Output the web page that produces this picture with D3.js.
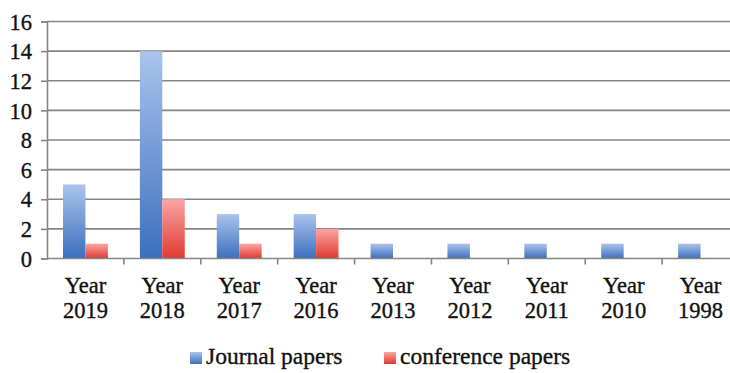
<!DOCTYPE html>
<html>
<head>
<meta charset="utf-8">
<script src="https://cdn.jsdelivr.net/npm/d3@7"></script>
<style>
  html, body { margin: 0; padding: 0; background: #fff; }
  svg { display: block; }
  text { font-family: "Liberation Serif", "Times New Roman", serif; fill: #111; stroke: #111; stroke-width: 0.35px; }
</style>
</head>
<body>
<svg id="chart" width="730" height="373"></svg>
<script>
// Papers published per year, split by venue type
const years = ["2019", "2018", "2017", "2016", "2013", "2012", "2011", "2010", "1998"];
const journalPapers = [5, 14, 3, 3, 1, 1, 1, 1, 1];
const conferencePapers = [1, 4, 1, 2, 0, 0, 0, 0, 0];
const seriesNames = ["Journal papers", "conference papers"];
const yTicks = [0, 2, 4, 6, 8, 10, 12, 14, 16];

const svg = d3.select("#chart");
const defs = svg.append("defs");

// Per-bar vertical gradients (light at top, saturated at bottom)
const gradients = [
  { id: "gradJournal", top: "#aac4ec", bottom: "#3b6fbe" },
  { id: "gradConf", top: "#fba5a3", bottom: "#de3a30" }
];
gradients.forEach(g => {
  const lg = defs.append("linearGradient")
    .attr("id", g.id).attr("x1", 0).attr("y1", 0).attr("x2", 0).attr("y2", 1);
  lg.append("stop").attr("offset", "0%").attr("stop-color", g.top);
  lg.append("stop").attr("offset", "100%").attr("stop-color", g.bottom);
});

const plotLeft = 47, plotRight = 739, plotTop = 21.5, plotBottom = 258.5;
const axisFont = "22.5px";
const legendFont = "23.5px";

const x0 = d3.scaleBand().domain(years).range([plotLeft, plotRight]).paddingInner(0).paddingOuter(0);
const x1 = d3.scaleBand().domain(seriesNames).range([16, x0.bandwidth() - 16]).padding(0);
const y = d3.scaleLinear().domain([0, 16]).range([plotBottom, plotTop]);

// Horizontal gridlines
svg.append("g")
  .selectAll("line")
  .data(yTicks.filter(t => t > 0))
  .join("line")
  .attr("x1", plotLeft).attr("x2", plotRight)
  .attr("y1", d => y(d)).attr("y2", d => y(d))
  .attr("stroke", "#858585").attr("stroke-width", 1.6);

// Bars
const series = [
  { name: seriesNames[0], values: journalPapers, fill: "url(#gradJournal)" },
  { name: seriesNames[1], values: conferencePapers, fill: "url(#gradConf)" }
];
series.forEach(s => {
  svg.append("g")
    .selectAll("rect")
    .data(years.map((yr, i) => ({ yr, v: s.values[i] })).filter(d => d.v > 0))
    .join("rect")
    .attr("x", d => x0(d.yr) + x1(s.name))
    .attr("width", x1.bandwidth())
    .attr("y", d => y(d.v))
    .attr("height", d => y(0) - y(d.v))
    .attr("fill", s.fill);
});

// Y axis
const yAxis = d3.axisLeft(y).tickValues(yTicks).tickSize(6).tickPadding(9).tickFormat(d3.format("d"));
const yg = svg.append("g").attr("transform", `translate(${plotLeft},0)`).call(yAxis);
yg.select(".domain").attr("stroke", "#858585").attr("stroke-width", 1.6);
yg.selectAll(".tick line").attr("stroke", "#858585").attr("stroke-width", 1.6);
yg.selectAll(".tick text")
  .style("font-family", '"Liberation Serif", "Times New Roman", serif')
  .style("font-size", axisFont).attr("fill", "#111").attr("dy", "0.34em");

// X axis: baseline with ticks at category boundaries
const xg = svg.append("g");
xg.append("line")
  .attr("x1", plotLeft).attr("x2", plotRight).attr("y1", plotBottom).attr("y2", plotBottom)
  .attr("stroke", "#858585").attr("stroke-width", 1.6);
xg.selectAll("line.tick")
  .data(years)
  .join("line").attr("class", "tick")
  .attr("x1", d => x0(d) + x0.bandwidth()).attr("x2", d => x0(d) + x0.bandwidth())
  .attr("y1", plotBottom).attr("y2", plotBottom + 6)
  .attr("stroke", "#858585").attr("stroke-width", 1.6);
const labels = xg.selectAll("text.cat")
  .data(years)
  .join("text").attr("class", "cat")
  .attr("text-anchor", "middle")
  .style("font-size", axisFont);
labels.append("tspan")
  .attr("x", d => x0(d) + x0.bandwidth() / 2).attr("y", 293)
  .text("Year");
labels.append("tspan")
  .attr("x", d => x0(d) + x0.bandwidth() / 2).attr("y", 318)
  .text(d => d);

// Legend
const legendItems = [
  { name: seriesNames[0], fill: "url(#gradJournal)", x: 190 },
  { name: seriesNames[1], fill: "url(#gradConf)", x: 384 }
];
const lg = svg.append("g");
legendItems.forEach(it => {
  lg.append("rect").attr("x", it.x).attr("y", 352).attr("width", 12).attr("height", 12).attr("fill", it.fill);
  lg.append("text").attr("x", it.x + 16).attr("y", 364).style("font-size", legendFont).text(it.name);
});
</script>
</body>
</html>
